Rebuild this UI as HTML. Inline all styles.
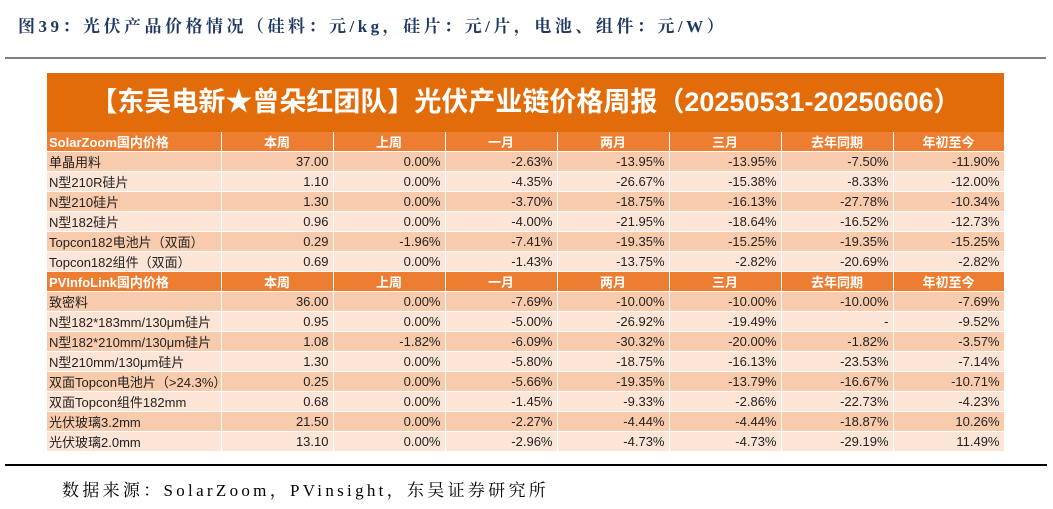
<!DOCTYPE html>
<html><head><meta charset="utf-8"><style>
body{margin:0;width:1053px;height:509px;background:#fff;position:relative;overflow:hidden;font-family:"Liberation Sans","Noto Sans CJK SC",sans-serif}
#title{position:absolute;left:18px;top:12px;font:bold 17px "Liberation Serif","Noto Serif CJK SC",serif;color:#1f3864;white-space:nowrap;letter-spacing:3.5px}
#rule1{position:absolute;left:5px;top:57px;width:1041px;height:2px;background:#808080}
#rule2{position:absolute;left:5px;top:464px;width:1042px;height:2px;background:#000}
#src{position:absolute;left:62px;top:476px;font:17px "Liberation Serif","Noto Serif CJK SC",serif;color:#000;white-space:nowrap;letter-spacing:3.3px}
#banner{position:absolute;left:47px;top:73px;width:957px;height:59px;background:#e26b0a;color:#fff;font-weight:bold;font-size:27px;line-height:59px;text-align:center;white-space:nowrap}
table{position:absolute;left:47px;top:132px;border-collapse:collapse;table-layout:fixed;width:957px}
td{height:19.8px;padding:0 4px;font-size:13px;color:#222;border-right:1px solid #fff;border-bottom:1px solid #fff;text-align:right;white-space:nowrap;overflow:hidden;box-sizing:border-box}
td:first-child{text-align:left;padding-left:2px}
tr.h td{background:#ed7d31;color:#fff;font-weight:bold;text-align:center}
tr.h td:first-child{text-align:left}
tr.d td{background:#f8cbad}
tr.l td{background:#fce4d6}
</style></head><body>
<div id="title">图39：光伏产品价格情况（硅料：元/kg，硅片：元/片，电池、组件：元/W）</div>
<div id="rule1"></div>
<div id="banner">【东吴电新★曾朵红团队】光伏产业链价格周报（20250531-20250606）</div>
<table>
<colgroup><col style="width:174px"><col style="width:112px"><col style="width:112px"><col style="width:112px"><col style="width:112px"><col style="width:112px"><col style="width:112px"><col style="width:111px"></colgroup>
<tr class="h"><td>SolarZoom国内价格</td><td>本周</td><td>上周</td><td>一月</td><td>两月</td><td>三月</td><td>去年同期</td><td>年初至今</td></tr>
<tr class="d"><td>单晶用料</td><td>37.00</td><td>0.00%</td><td>-2.63%</td><td>-13.95%</td><td>-13.95%</td><td>-7.50%</td><td>-11.90%</td></tr>
<tr class="l"><td>N型210R硅片</td><td>1.10</td><td>0.00%</td><td>-4.35%</td><td>-26.67%</td><td>-15.38%</td><td>-8.33%</td><td>-12.00%</td></tr>
<tr class="d"><td>N型210硅片</td><td>1.30</td><td>0.00%</td><td>-3.70%</td><td>-18.75%</td><td>-16.13%</td><td>-27.78%</td><td>-10.34%</td></tr>
<tr class="l"><td>N型182硅片</td><td>0.96</td><td>0.00%</td><td>-4.00%</td><td>-21.95%</td><td>-18.64%</td><td>-16.52%</td><td>-12.73%</td></tr>
<tr class="d"><td>Topcon182电池片（双面）</td><td>0.29</td><td>-1.96%</td><td>-7.41%</td><td>-19.35%</td><td>-15.25%</td><td>-19.35%</td><td>-15.25%</td></tr>
<tr class="l"><td>Topcon182组件（双面）</td><td>0.69</td><td>0.00%</td><td>-1.43%</td><td>-13.75%</td><td>-2.82%</td><td>-20.69%</td><td>-2.82%</td></tr>
<tr class="h"><td>PVInfoLink国内价格</td><td>本周</td><td>上周</td><td>一月</td><td>两月</td><td>三月</td><td>去年同期</td><td>年初至今</td></tr>
<tr class="d"><td>致密料</td><td>36.00</td><td>0.00%</td><td>-7.69%</td><td>-10.00%</td><td>-10.00%</td><td>-10.00%</td><td>-7.69%</td></tr>
<tr class="l"><td>N型182*183mm/130μm硅片</td><td>0.95</td><td>0.00%</td><td>-5.00%</td><td>-26.92%</td><td>-19.49%</td><td>-</td><td>-9.52%</td></tr>
<tr class="d"><td>N型182*210mm/130μm硅片</td><td>1.08</td><td>-1.82%</td><td>-6.09%</td><td>-30.32%</td><td>-20.00%</td><td>-1.82%</td><td>-3.57%</td></tr>
<tr class="l"><td>N型210mm/130μm硅片</td><td>1.30</td><td>0.00%</td><td>-5.80%</td><td>-18.75%</td><td>-16.13%</td><td>-23.53%</td><td>-7.14%</td></tr>
<tr class="d"><td>双面Topcon电池片（&gt;24.3%）</td><td>0.25</td><td>0.00%</td><td>-5.66%</td><td>-19.35%</td><td>-13.79%</td><td>-16.67%</td><td>-10.71%</td></tr>
<tr class="l"><td>双面Topcon组件182mm</td><td>0.68</td><td>0.00%</td><td>-1.45%</td><td>-9.33%</td><td>-2.86%</td><td>-22.73%</td><td>-4.23%</td></tr>
<tr class="d"><td>光伏玻璃3.2mm</td><td>21.50</td><td>0.00%</td><td>-2.27%</td><td>-4.44%</td><td>-4.44%</td><td>-18.87%</td><td>10.26%</td></tr>
<tr class="l"><td>光伏玻璃2.0mm</td><td>13.10</td><td>0.00%</td><td>-2.96%</td><td>-4.73%</td><td>-4.73%</td><td>-29.19%</td><td>11.49%</td></tr>
</table>
<div id="rule2"></div>
<div id="src">数据来源：SolarZoom，PVinsight，东吴证券研究所</div>
</body></html>
